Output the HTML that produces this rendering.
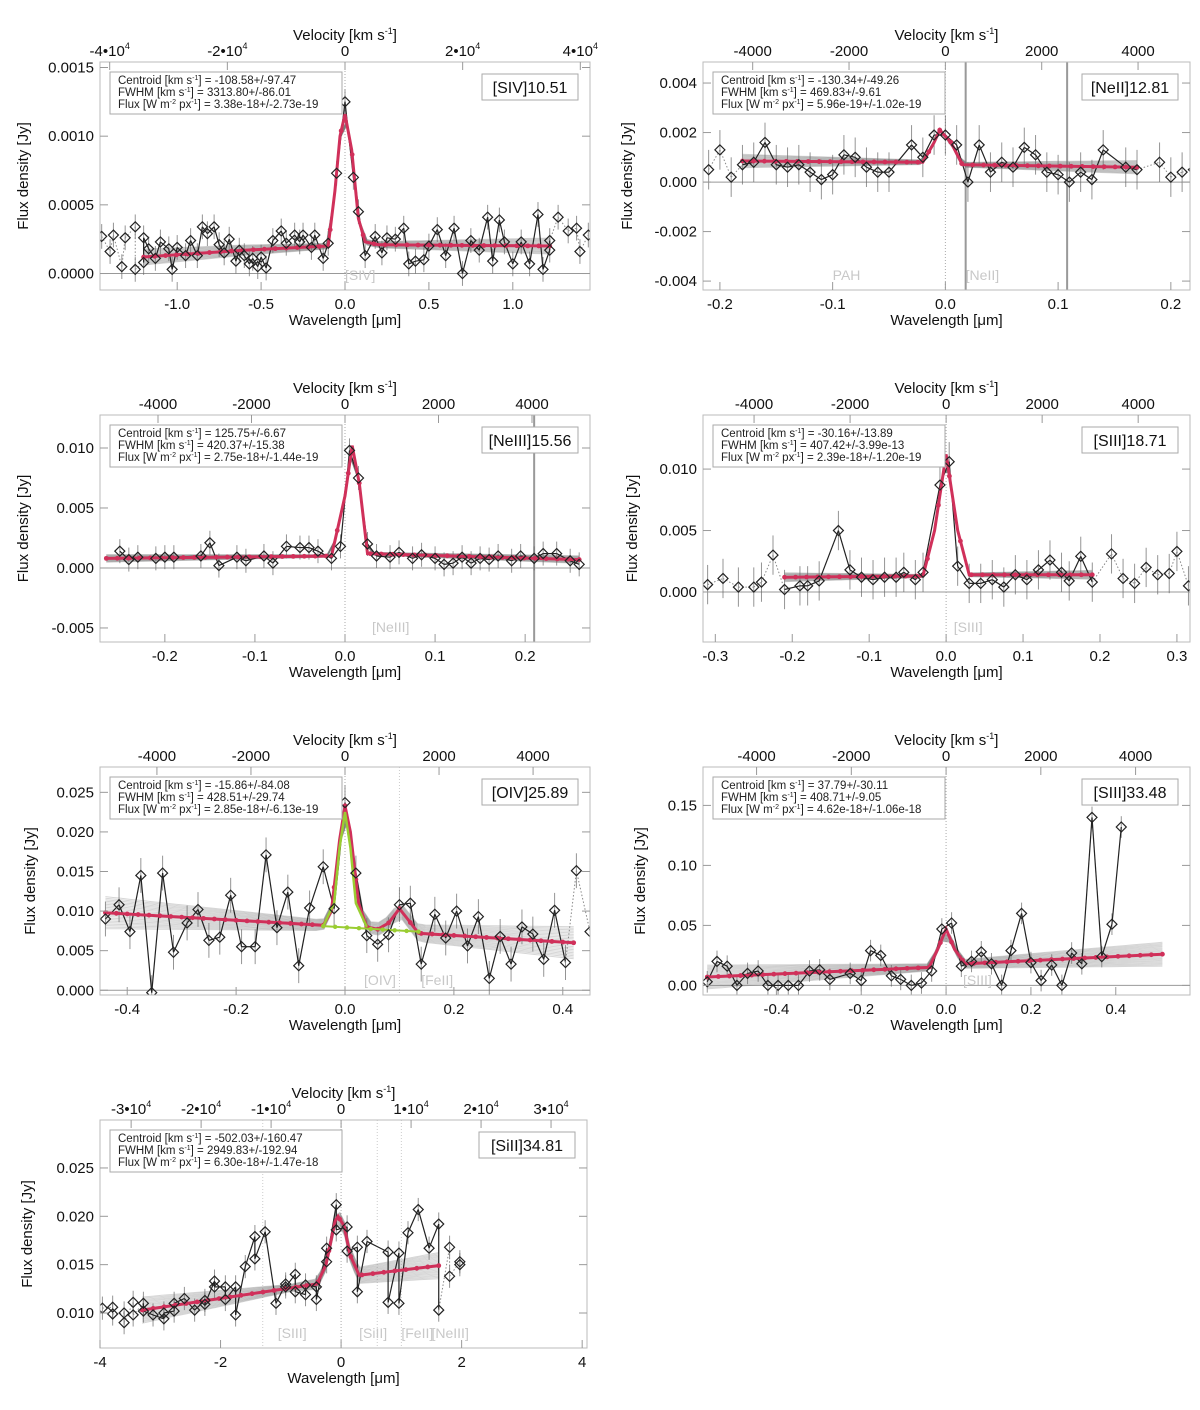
<!DOCTYPE html>
<html><head><meta charset="utf-8"><style>
html,body{margin:0;padding:0;background:#fff;}
svg{display:block;font-family:"Liberation Sans",sans-serif;}
</style></head><body>
<svg id="fig" width="1200" height="1410" viewBox="0 0 1200 1410" xmlns="http://www.w3.org/2000/svg"></svg>
<script>
// ---------- Panel 1: [SIV]10.51 (flux in 1e-4 Jy) ----------
const p1X=[-1.45,-1.40,-1.38,-1.33,-1.31,-1.25,-1.25,-1.2,-1.2,-1.17,-1.13,-1.1,-1.05,-1.03,-1.0,-0.95,-0.92,-0.88,-0.85,-0.82,-0.78,-0.75,-0.72,-0.69,-0.65,-0.63,-0.6,-0.57,-0.55,-0.52,-0.5,-0.47,-0.43,-0.38,-0.35,-0.3,-0.27,-0.25,-0.2,-0.18,-0.13,-0.1,-0.05,0,0.05,0.08,0.12,0.18,0.22,0.25,0.3,0.35,0.38,0.42,0.47,0.5,0.55,0.6,0.65,0.7,0.75,0.8,0.85,0.88,0.92,0.95,1.0,1.05,1.1,1.15,1.18,1.22,1.22,1.27,1.33,1.38,1.4,1.45];
const p1Y=[2.7,1.6,2.8,0.5,2.6,3.4,0.3,0.8,2.6,1.8,1.1,2.3,1.8,0.3,1.9,1.3,2.4,1.3,3.4,2.9,3.4,2.1,1.5,2.5,0.9,1.7,1.3,0.7,1.1,0.5,1.2,0.4,2.4,3.1,2.2,2.8,2.3,2.8,1.9,2.8,1.1,2.2,7.3,12.5,7.0,4.5,1.3,2.7,1.5,2.6,2.5,3.3,0.7,0.9,1.0,2.0,3.2,1.3,3.3,0.0,2.4,1.7,4.1,0.9,3.9,2.3,0.7,2.3,0.7,4.3,0.3,1.7,2.4,4.1,3.1,3.3,1.6,2.8];
const p1FitX=[-1.2,-0.6,-0.1,-0.06,-0.03,0,0.04,0.08,0.12,0.2,1.22];
const p1FitY=[1.2,1.7,2.0,6.0,10.0,11.6,9.0,4.0,2.3,2.1,2.0];
// ---------- Panel 2: [NeII]12.81 (1e-3 Jy) ----------
const p2X=[-0.21,-0.2,-0.19,-0.18,-0.17,-0.16,-0.15,-0.14,-0.13,-0.12,-0.11,-0.1,-0.09,-0.08,-0.07,-0.06,-0.05,-0.03,-0.02,-0.01,0,0.01,0.02,0.03,0.04,0.05,0.06,0.07,0.08,0.09,0.1,0.11,0.12,0.13,0.14,0.16,0.17,0.19,0.2,0.21,0.22];
const p2Y=[0.5,1.3,0.2,0.7,0.8,1.6,0.7,0.6,0.7,0.4,0.1,0.3,1.1,1.0,0.6,0.4,0.4,1.5,1.0,1.9,1.9,1.5,0.0,1.5,0.4,0.8,0.6,1.4,1.1,0.4,0.3,0.0,0.4,0.1,1.3,0.6,0.5,0.8,0.2,0.4,0.5];
const p2FitX=[-0.18,-0.02,-0.01,-0.005,0.005,0.015,0.17];
const p2FitY=[0.85,0.8,1.6,2.1,1.6,0.7,0.6];
// ---------- Panel 3: [NeIII]15.56 (1e-3 Jy) ----------
const p3X=[-0.25,-0.24,-0.23,-0.21,-0.2,-0.19,-0.16,-0.15,-0.14,-0.12,-0.11,-0.09,-0.08,-0.065,-0.05,-0.04,-0.03,-0.015,-0.005,0.005,0.015,0.025,0.035,0.05,0.06,0.075,0.085,0.1,0.11,0.12,0.13,0.14,0.15,0.16,0.17,0.185,0.195,0.21,0.22,0.235,0.25,0.26];
const p3Y=[1.4,0.7,0.9,0.8,0.9,0.9,1.0,2.1,0.2,0.9,0.6,1.0,0.4,1.8,1.7,1.7,1.4,0.8,1.8,9.8,7.5,2.0,1.0,0.9,1.3,0.8,1.1,0.8,0.3,0.4,0.9,0.4,0.8,0.7,1.0,0.6,1.0,0.8,1.2,1.2,0.6,0.3];
const p3FitX=[-0.265,-0.015,0.0,0.008,0.016,0.025,0.26];
const p3FitY=[0.8,1.0,6.0,10.2,7.0,1.2,0.7];
// ---------- Panel 4: [SIII]18.71 (1e-3 Jy) ----------
const p4X=[-0.31,-0.29,-0.27,-0.25,-0.24,-0.225,-0.21,-0.19,-0.18,-0.165,-0.14,-0.125,-0.11,-0.095,-0.08,-0.065,-0.055,-0.04,-0.03,-0.008,0.004,0.015,0.03,0.045,0.06,0.075,0.09,0.105,0.12,0.135,0.15,0.16,0.175,0.19,0.215,0.23,0.245,0.26,0.275,0.29,0.3,0.315];
const p4Y=[0.6,1.1,0.4,0.4,0.8,3.0,0.2,0.5,0.5,0.9,5.0,1.8,1.2,1.0,1.2,1.2,1.6,1.0,1.6,8.7,10.6,2.1,0.7,0.7,1.0,0.4,1.4,1.0,1.8,2.6,1.6,0.9,2.9,0.8,3.1,1.1,0.7,2.0,1.4,1.5,3.3,0.5];
const p4FitX=[-0.21,-0.03,-0.015,0,0.015,0.03,0.19];
const p4FitY=[1.2,1.3,5.0,11.2,5.0,1.4,1.4];
// ---------- Panel 5: [OIV]25.89 (1e-3 Jy) ----------
const p5X=[-0.44,-0.415,-0.395,-0.375,-0.355,-0.335,-0.315,-0.29,-0.27,-0.25,-0.23,-0.21,-0.19,-0.165,-0.145,-0.125,-0.105,-0.085,-0.065,-0.04,-0.02,0.0,0.02,0.04,0.06,0.08,0.1,0.12,0.14,0.165,0.185,0.205,0.225,0.245,0.265,0.285,0.305,0.325,0.345,0.365,0.385,0.405,0.425,0.45];
const p5Y=[9.0,10.8,7.4,14.5,-0.3,14.8,4.8,8.5,10.2,6.3,6.7,12.0,5.5,5.5,17.1,7.9,12.4,3.1,10.4,15.6,10.3,23.7,14.8,6.9,5.8,7.0,10.8,11.0,3.3,9.6,6.6,10.0,5.6,9.3,1.5,6.8,3.3,8.0,7.1,3.9,10.1,3.5,15.1,7.4];
const p5FitX=[-0.44,-0.04,-0.025,-0.01,0.0,0.01,0.025,0.04,0.06,0.08,0.1,0.115,0.135,0.42];
const p5FitY=[9.8,8.2,10.0,19.0,23.3,20.0,11.0,8.0,7.7,8.5,10.3,9.0,7.2,6.0];
const p5CompX=[-0.04,-0.02,-0.01,0.0,0.01,0.02,0.04];
const p5CompY=[8.1,11.0,18.0,22.5,18.0,11.0,8.0];
const p5ContX=[-0.04,0.135];
const p5ContY=[8.1,7.4];
// ---------- Panel 6: [SIII]33.48 (Jy) ----------
const p6X=[-0.563,-0.54,-0.516,-0.493,-0.468,-0.443,-0.42,-0.396,-0.372,-0.348,-0.322,-0.298,-0.274,-0.226,-0.2,-0.178,-0.154,-0.129,-0.107,-0.082,-0.058,-0.034,-0.01,0.013,0.036,0.06,0.083,0.107,0.131,0.153,0.178,0.2,0.224,0.249,0.273,0.296,0.32,0.344,0.367,0.391,0.413];
const p6Y=[0.003,0.02,0.016,0.0,0.01,0.012,0.0,0.0,0.0,0.0,0.012,0.013,0.005,0.01,0.004,0.029,0.025,0.008,0.005,0.0,0.002,0.012,0.047,0.052,0.016,0.02,0.028,0.018,0.0,0.029,0.06,0.019,0.004,0.017,0.0,0.027,0.018,0.14,0.024,0.051,0.132];
const p6FitX=[-0.563,-0.04,-0.02,0.0,0.02,0.045,0.51];
const p6FitY=[0.007,0.015,0.03,0.047,0.03,0.018,0.026];
// ---------- Panel 7: [SiII]34.81 (1e-3 Jy) ----------
const p7X=[-3.96,-3.79,-3.79,-3.6,-3.6,-3.45,-3.45,-3.28,-3.28,-3.12,-2.94,-2.94,-2.77,-2.77,-2.6,-2.43,-2.26,-2.26,-2.1,-2.1,-1.92,-1.92,-1.75,-1.75,-1.59,-1.43,-1.43,-1.26,-1.08,-0.92,-0.92,-0.76,-0.76,-0.59,-0.59,-0.41,-0.41,-0.24,-0.24,-0.08,-0.08,0.1,0.1,0.27,0.27,0.43,0.78,0.78,0.96,0.96,1.11,1.28,1.46,1.62,1.62,1.8,1.8,1.97,1.97];
const p7Y=[10.5,10.6,9.9,10.0,9.0,11.1,9.8,11.0,10.2,9.8,9.4,10.0,10.2,11.0,11.5,10.3,11.3,10.9,13.3,12.7,12.7,11.4,12.7,9.8,14.8,17.9,15.6,18.4,11.0,13.0,12.7,14.0,12.2,11.9,12.9,12.7,11.4,16.7,15.3,21.2,18.6,18.9,16.4,16.8,12.2,17.4,16.3,11.1,16.2,11.0,18.3,20.7,16.7,19.2,10.3,16.8,13.8,15.3,15.0];
const p7FitX=[-3.3,-0.4,-0.25,-0.1,-0.05,0.05,0.15,0.3,1.62];
const p7FitY=[10.3,13.0,15.0,19.5,20.0,19.0,16.0,13.9,14.9];

const NS="http://www.w3.org/2000/svg";
const svg=document.getElementById('fig');
function mk(tag,attrs,parent,text){
  const e=document.createElementNS(NS,tag);
  for(const k in attrs)e.setAttribute(k,attrs[k]);
  if(text!==undefined)e.textContent=text;
  (parent||svg).appendChild(e);return e;
}
function interp(xs,ys,x){
  if(x<=xs[0])return ys[0];
  for(let i=1;i<xs.length;i++){if(x<=xs[i]){const t=(x-xs[i-1])/(xs[i]-xs[i-1]);return ys[i-1]+t*(ys[i]-ys[i-1]);}}
  return ys[ys.length-1];
}
const C=299792;
const panels=[
 {name:'siv',L:100,R:590,T:62,B:290,xmin:-1.46,xmax:1.46,ymin:-0.00012,ymax:0.00154,unit:1e-4,yt:[0,0.0005,0.001,0.0015],yd:4,xt:[-1,-0.5,0,0.5,1],xd:1,lam:10.51,vt:[-4e4,-2e4,0,2e4,4e4],sci:true,X:p1X,Y:p1Y,FX:p1FitX,FY:p1FitY,band:1.3,err:0.9,ytx:28,label:'[SIV]10.51',info:['-108.58+/-97.47','3313.80+/-86.01','3.38e-18+/-2.73e-19'],lines:[[0,'[SIV]']],vlines:[]},
 {name:'neii',L:703,R:1190,T:62,B:290,xmin:-0.215,xmax:0.217,ymin:-0.00436,ymax:0.00485,unit:1e-3,yt:[-0.004,-0.002,0,0.002,0.004],yd:3,xt:[-0.2,-0.1,0,0.1,0.2],xd:1,lam:12.81,vt:[-4000,-2000,0,2000,4000],sci:false,X:p2X,Y:p2Y,FX:p2FitX,FY:p2FitY,band:0.6,err:0.8,ytx:632,label:'[NeII]12.81',info:['-130.34+/-49.26','469.83+/-9.61','5.96e-19+/-1.02e-19'],lines:[[-0.1,'PAH'],[0.018,'[NeII]']],vlines:[0.018,0.108]},
 {name:'neiii',L:100,R:590,T:415,B:642,xmin:-0.272,xmax:0.272,ymin:-0.00617,ymax:0.01275,unit:1e-3,yt:[-0.005,0,0.005,0.01],yd:3,xt:[-0.2,-0.1,0,0.1,0.2],xd:1,lam:15.56,vt:[-4000,-2000,0,2000,4000],sci:false,X:p3X,Y:p3Y,FX:p3FitX,FY:p3FitY,band:0.7,err:1.0,ytx:28,label:'[NeIII]15.56',info:['125.75+/-6.67','420.37+/-15.38','2.75e-18+/-1.44e-19'],lines:[[0.03,'[NeIII]']],vlines:[0.21]},
 {name:'siii-18',L:703,R:1190,T:415,B:642,xmin:-0.316,xmax:0.317,ymin:-0.00407,ymax:0.0144,unit:1e-3,yt:[0,0.005,0.01],yd:3,xt:[-0.3,-0.2,-0.1,0,0.1,0.2,0.3],xd:1,lam:18.71,vt:[-4000,-2000,0,2000,4000],sci:false,X:p4X,Y:p4Y,FX:p4FitX,FY:p4FitY,band:0.8,err:1.6,ytx:637,label:'[SIII]18.71',info:['-30.16+/-13.89','407.42+/-3.99e-13','2.39e-18+/-1.20e-19'],lines:[[0.01,'[SIII]']],vlines:[]},
 {name:'oiv',L:100,R:590,T:767,B:995,xmin:-0.45,xmax:0.45,ymin:-0.0006,ymax:0.0282,unit:1e-3,yt:[0,0.005,0.01,0.015,0.02,0.025],yd:3,xt:[-0.4,-0.2,0,0.2,0.4],xd:1,lam:25.89,vt:[-4000,-2000,0,2000,4000],sci:false,X:p5X,Y:p5Y,FX:p5FitX,FY:p5FitY,band:4.5,err:2.2,ytx:35,label:'[OIV]25.89',info:['-15.86+/-84.08','428.51+/-29.74','2.85e-18+/-6.13e-19'],lines:[[0.035,'[OIV]'],[0.14,'[FeII]']],vlines:[0.1],green:true},
 {name:'siii-33',L:703,R:1190,T:767,B:995,xmin:-0.573,xmax:0.575,ymin:-0.008,ymax:0.182,unit:1,yt:[0,0.05,0.1,0.15],yd:2,xt:[-0.4,-0.2,0,0.2,0.4],xd:1,lam:33.48,vt:[-4000,-2000,0,2000,4000],sci:false,X:p6X,Y:p6Y,FX:p6FitX,FY:p6FitY,band:0.022,err:0.009,ytx:645,label:'[SIII]33.48',info:['37.79+/-30.11','408.71+/-9.05','4.62e-18+/-1.06e-18'],lines:[[0.04,'[SIII]']],vlines:[]},
 {name:'siii-34',L:100,R:587,T:1120,B:1348,xmin:-4.0,xmax:4.08,ymin:0.00638,ymax:0.02996,unit:1e-3,yt:[0.01,0.015,0.02,0.025],yd:3,xt:[-4,-2,0,2,4],xd:0,lam:34.81,vt:[-3e4,-2e4,-1e4,0,1e4,2e4,3e4],sci:true,X:p7X,Y:p7Y,FX:p7FitX,FY:p7FitY,band:3.0,err:1.2,ytx:32,label:'[SiII]34.81',info:['-502.03+/-160.47','2949.83+/-192.94','6.30e-18+/-1.47e-18'],lines:[[-1.05,'[SIII]'],[0.3,'[SiII]'],[1.0,'[FeII]'],[1.5,'[NeIII]']],vlines:[-1.3,0.6,1.0]}
];

panels.forEach((p)=>{
  const g=mk('g',{});
  
  
  const sx=x=>p.L+(x-p.xmin)/(p.xmax-p.xmin)*(p.R-p.L);
  const sy=y=>p.B-(y-p.ymin)/(p.ymax-p.ymin)*(p.B-p.T);
  const su=v=>sy(v*p.unit);
  const cx=(p.L+p.R)/2, cy=(p.T+p.B)/2;
  const clipId='clip-'+p.name;
  const cp=mk('clipPath',{id:clipId},g);mk('rect',{x:p.L,y:p.T,width:p.R-p.L,height:p.B-p.T},cp);
  const inner=mk('g',{'clip-path':'url(#'+clipId+')'},g);
  
  
  if(p.ymin<0){const z=mk('line',{x1:p.L,x2:p.R,y1:sy(0),y2:sy(0),stroke:'#999','stroke-width':1},inner);}
  mk('line',{x1:sx(0),x2:sx(0),y1:p.T,y2:p.B,stroke:'#aaa','stroke-width':1,'stroke-dasharray':'1,2'},inner);
  p.vlines.forEach(v=>{const strong=p.name==='neii'||p.name==='neiii';const l=mk('line',{x1:sx(v),x2:sx(v),y1:p.T,y2:p.B,stroke:strong?'#999':'#ccc','stroke-width':strong?2:1,'stroke-dasharray':strong?'':'1,2'},inner);});
  // gray model bundle (fanning)
  const nb=22;
  for(let k=0;k<nb;k++){
    const f=(k/(nb-1))-0.5;
    let d='';
    const x0=p.FX[0],x1=p.FX[p.FX.length-1];
    for(let i=0;i<=60;i++){const x=x0+(x1-x0)*i/60;const t=(x-x0)/(x1-x0);const y=interp(p.FX,p.FY,x)+f*p.band*(0.25+1.3*Math.abs(t-0.5));d+=(i?'L':'M')+sx(x).toFixed(1)+','+su(y).toFixed(1);}
    mk('path',{d:d,fill:'none',stroke:'#777','stroke-opacity':0.3,'stroke-width':1},inner);
  }
  p.lines.forEach(l=>{const t=mk('text',{x:sx(l[0]),y:p.B-10,'font-size':14,fill:'#c8c8c8','text-anchor':'start'},inner,l[1]);});
  p.X.forEach((x,i)=>{mk('line',{x1:sx(x),x2:sx(x),y1:su(p.Y[i]-p.err),y2:su(p.Y[i]+p.err),stroke:'#666','stroke-width':1,'stroke-opacity':0.7},inner);});
  const f0=p.FX[0]-1e-6,f1=p.FX[p.FX.length-1]+1e-6;
  for(let i=1;i<p.X.length;i++){
    const inside=p.X[i-1]>=f0&&p.X[i]<=f1;
    mk('line',{x1:sx(p.X[i-1]),y1:su(p.Y[i-1]),x2:sx(p.X[i]),y2:su(p.Y[i]),stroke:inside?'#222':'#888','stroke-width':inside?1.2:1,'stroke-dasharray':inside?'':'1.5,2'},inner);
  }
  let fd='';p.FX.forEach((x,i)=>{fd+=(i?'L':'M')+sx(x).toFixed(1)+','+su(p.FY[i]).toFixed(1);});
  const fit=mk('path',{d:fd,fill:'none',stroke:'#d0305a','stroke-width':3},inner);
  
  
  const ndots=Math.round((sx(p.FX[p.FX.length-1])-sx(p.FX[0]))/11);
  for(let i=0;i<=ndots;i++){const x=p.FX[0]+(p.FX[p.FX.length-1]-p.FX[0])*i/ndots;mk('circle',{cx:sx(x),cy:su(interp(p.FX,p.FY,x)),r:2.4,fill:'#d0305a'},inner);}
  if(p.green){
    let gd='';p5CompX.forEach((x,i)=>{gd+=(i?'L':'M')+sx(x)+','+su(p5CompY[i]);});
    const gl=mk('path',{d:gd,fill:'none',stroke:'#9acd32','stroke-width':2.5},inner);
    
    
    const cl=mk('line',{x1:sx(p5ContX[0]),y1:su(p5ContY[0]),x2:sx(p5ContX[1]),y2:su(p5ContY[1]),stroke:'#9acd32','stroke-width':2},inner);
    
    
    for(let i=0;i<=8;i++){const x=p5ContX[0]+(p5ContX[1]-p5ContX[0])*i/8;mk('circle',{cx:sx(x),cy:su(interp(p5ContX,p5ContY,x)),r:2.2,fill:'#9acd32'},inner);}
  }
  p.X.forEach((x,i)=>{
    const X=sx(x),Y=su(p.Y[i]);
    const dm=mk('path',{d:`M${X},${Y-5}L${X+5},${Y}L${X},${Y+5}L${X-5},${Y}Z`,fill:'none',stroke:'#222','stroke-width':1.2},inner);
    
    
  });
  const fr=mk('rect',{x:p.L,y:p.T,width:p.R-p.L,height:p.B-p.T,fill:'none',stroke:'#bbb','stroke-width':1},g);
  
  
  p.yt.forEach(v=>{
    const y=sy(v);
    mk('line',{x1:p.L,x2:p.L+8,y1:y,y2:y,stroke:'#999'},g);mk('line',{x1:p.R,x2:p.R-8,y1:y,y2:y,stroke:'#999'},g);
    const t=mk('text',{x:p.L-6,y:y+5,'font-size':15,'text-anchor':'end',fill:'#111'},g,v.toFixed(p.yd));
    
    
  });
  p.xt.forEach(v=>{
    const x=sx(v);
    mk('line',{x1:x,x2:x,y1:p.B,y2:p.B-8,stroke:'#999'},g);
    const t=mk('text',{x:x,y:p.B+19,'font-size':15,'text-anchor':'middle',fill:'#111'},g,v.toFixed(p.xd));
    
    
  });
  p.vt.forEach(v=>{
    const x=sx(v/C*p.lam);
    mk('line',{x1:x,x2:x,y1:p.T,y2:p.T+8,stroke:'#999'},g);
    const t=mk('text',{x:x,y:p.T-6,'font-size':15,'text-anchor':'middle',fill:'#111'},g);
    
    
    if(p.sci&&v!==0){
      const e=Math.floor(Math.log10(Math.abs(v)));const m=Math.round(v/Math.pow(10,e));
      mk('tspan',{},t,m+'\u2022'+'10');mk('tspan',{dy:-7,'font-size':9},t,String(e));
    } else t.textContent=String(v);
  });
  const vt=mk('text',{x:cx,y:p.T-22,'font-size':15,'text-anchor':'middle',fill:'#111'},g);
  
  
  mk('tspan',{},vt,'Velocity [km s');mk('tspan',{dy:-6,'font-size':9},vt,'-1');mk('tspan',{dy:6},vt,']');
  const xt=mk('text',{x:cx,y:p.B+35,'font-size':15,'text-anchor':'middle',fill:'#111'},g,'Wavelength [\u03bcm]');
  
  
  const yt=mk('text',{x:p.ytx,y:cy,'font-size':15,'text-anchor':'middle',fill:'#111',transform:`rotate(-90 ${p.ytx} ${cy})`},g,'Flux density [Jy]');
  
  
  const ib=mk('g',{},g);
  
  
  mk('rect',{x:p.L+10,y:p.T+10,width:232,height:42,fill:'#fff',stroke:'#aaa'},ib);
  const rows=[['Centroid [km s','-1','] = '],['FWHM [km s','-1',']       = '],['Flux [W m','-2',' px']];
  rows.forEach((r,i)=>{
    const t=mk('text',{x:p.L+18,y:p.T+22+i*12,'font-size':11.5,fill:'#222'},ib);
    mk('tspan',{},t,r[0]);mk('tspan',{dy:-4,'font-size':7},t,r[1]);
    if(i===2){mk('tspan',{dy:4},t,' px');mk('tspan',{dy:-4,'font-size':7},t,'-1');mk('tspan',{dy:4},t,'] = '+p.info[i]);}
    else mk('tspan',{dy:4,'xml:space':'preserve'},t,r[2]+p.info[i]);
  });
  const nb2=mk('g',{},g);
  
  
  mk('rect',{x:p.R-108,y:p.T+12,width:96,height:26,fill:'#fff',stroke:'#aaa'},nb2);
  mk('text',{x:p.R-60,y:p.T+31,'font-size':16,'text-anchor':'middle',fill:'#111'},nb2,p.label);
});
</script>
</body></html>
